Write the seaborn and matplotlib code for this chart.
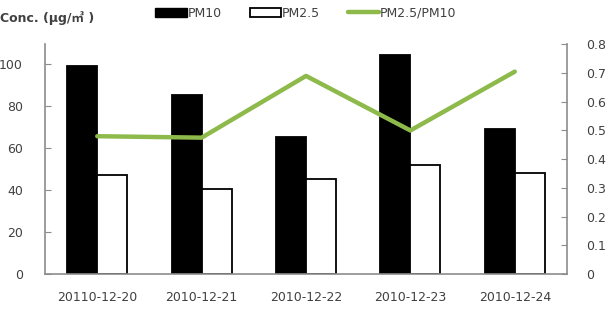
# -*- coding: utf-8 -*-
""" PM10 / PM2.5 daily concentration chart with ratio on a second axis. """
import numpy as np
import pandas as pd
import matplotlib
matplotlib.use("Agg")
import matplotlib.pyplot as plt
import seaborn as sns
from matplotlib.patches import Patch
from matplotlib.lines import Line2D

dates = ["20110-12-20", "2010-12-21", "2010-12-22", "2010-12-23", "2010-12-24"]
pm10 = [99, 85.5, 65.5, 104.3, 69]
pm25 = [47, 40.5, 45.5, 52, 48.4]
ratio = [0.48, 0.475, 0.69, 0.50, 0.705]

TEXT = "#404040"
AXIS = "#8c8c8c"
GREEN = "#8dba4b"

sns.set_style("white")
plt.rcParams["font.family"] = ["DejaVu Sans", "Noto Sans CJK SC"]
plt.rcParams["font.size"] = 9

df = pd.DataFrame({
    "date": dates * 2,
    "conc": pm10 + pm25,
    "kind": ["PM10"] * len(dates) + ["PM2.5"] * len(dates),
})

fig = plt.figure(figsize=(6.09, 3.19), dpi=100)
ax = fig.add_axes([0.074, 0.141, 0.857, 0.72])

sns.barplot(data=df, x="date", y="conc", hue="kind", ax=ax,
            palette={"PM10": "black", "PM2.5": "white"}, width=0.575,
            edgecolor="black", linewidth=1.3, legend=False)
ax.set_xlim(-0.5, len(dates) - 0.5)
ax.set_ylim(0, 109.5)
ax.set_yticks(range(0, 101, 20))
ax.set_xlabel("")
ax.set_ylabel("")

ax2 = ax.twinx()
sns.lineplot(x=np.arange(len(dates)), y=ratio, ax=ax2, color=GREEN, linewidth=3.2)
ax2.set_ylim(0, 0.8)
ax2.set_yticks(np.arange(0, 0.81, 0.1))
ax2.set_yticklabels(["0"] + [f"{v:.1f}" for v in np.arange(0.1, 0.81, 0.1)])
ax2.set_xlim(-0.5, len(dates) - 0.5)

# category boundary ticks on the x axis
ax.set_xticks(np.arange(len(dates)))
ax.set_xticklabels(dates)
ax.set_xticks(np.arange(-0.5, len(dates), 1), minor=True)
ax.tick_params(axis="x", which="major", length=0, pad=12, colors=TEXT)
ax.tick_params(axis="x", which="minor", length=4, direction="in", color=AXIS)
ax.tick_params(axis="y", length=4, direction="in", color=AXIS, labelcolor=TEXT, pad=16)
ax2.tick_params(axis="y", length=4, direction="in", color=AXIS, labelcolor=TEXT, pad=14)

for a in (ax, ax2):
    a.spines["top"].set_visible(False)
    for s in ("left", "right", "bottom"):
        a.spines[s].set_color(AXIS)
        a.spines[s].set_linewidth(1.2)
ax.spines["right"].set_visible(False)
ax2.spines["left"].set_visible(False)
ax2.spines["bottom"].set_visible(False)

fig.text(0.0, 0.945, "Conc. (μg/㎥ )", color=TEXT, fontsize=9, weight="bold",
         va="center", ha="left")

handles = [Patch(facecolor="black", edgecolor="black"),
           Patch(facecolor="white", edgecolor="black", linewidth=1.3),
           Line2D([], [], color=GREEN, linewidth=3.2)]
fig.legend(handles, ["PM10", "PM2.5", "PM2.5/PM10"], ncol=3, frameon=False,
           loc="center left", bbox_to_anchor=(0.245, 0.958), handlelength=2.5,
           handleheight=0.8, handletextpad=0.1, columnspacing=2.2, borderpad=0,
           labelcolor=TEXT)

fig.savefig("out.png", dpi=100)
